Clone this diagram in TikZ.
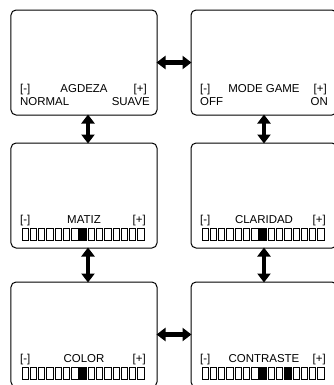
\documentclass[tikz,border=0pt]{standalone}
\usepackage{fontspec}
\setmainfont{Liberation Sans}
\usepackage{tikz}
\usetikzlibrary{positioning,arrows.meta}

% one row of 15 level cells under a screen, #2 = filled cells
\newcommand{\levelbar}[2]{%
  \foreach \i in {0,...,14}
    \draw[cell] ([xshift=11bp+\i*8.27bp, yshift=8bp]#1.south west) rectangle ++(6.3bp,11.5bp);
  \foreach \i in {#2}
    \fill ([xshift=11bp+\i*8.27bp, yshift=8bp]#1.south west) rectangle ++(6.3bp,11.5bp);
}

\begin{document}
\begin{tikzpicture}[%
    x=1bp, y=1bp,
    screen/.style={%
      draw,
      line width=1bp,
      rounded corners=5bp,
      minimum width=146bp,
      minimum height=105bp,
      inner sep=0pt,
      outer sep=0pt
    },
    lbl/.style={%
      font=\fontsize{11.5}{12}\selectfont,
      inner sep=0pt
    },
    cell/.style={line width=0.8bp},
    both/.style={%
      <->,
      >={Triangle[width=13bp,length=9bp]},
      line width=4.5bp,
      shorten <=-0.5bp,
      shorten >=-0.5bp
    }
  ]
    \useasboundingbox (0,0) rectangle (334,-385);
    \clip (0,0) rectangle (334,-385);

    \node[screen] (agdeza) at (84,-62.5)               {};
    \node[screen] (modegame) [right=34bp of agdeza]     {};
    \node[screen] (matiz) [below=28bp of agdeza]        {};
    \node[screen] (claridad) [below=28bp of modegame]   {};
    \node[screen] (color) [below=34bp of matiz]         {};
    \node[screen] (contraste) [below=34bp of claridad]  {};

    % AGDEZA
    \node[lbl, anchor=base west] (agdeza-minus) at ([shift={(9bp,23bp)}]agdeza.south west) {[-]};
    \node[lbl, anchor=base] (agdeza-title) at ([yshift=23bp]agdeza.south) {AGDEZA};
    \node[lbl, anchor=base east] (agdeza-plus) at ([shift={(-10bp,23bp)}]agdeza.south east) {[+]};
    \node[lbl, anchor=base west] (agdeza-low) at ([shift={(9bp,10bp)}]agdeza.south west) {NORMAL};
    \node[lbl, anchor=base east] (agdeza-high) at ([shift={(-7bp,10bp)}]agdeza.south east) {SUAVE};

    % MODE GAME
    \node[lbl, anchor=base west] (modegame-minus) at ([shift={(9bp,23bp)}]modegame.south west) {[-]};
    \node[lbl, anchor=base] (modegame-title) at ([yshift=23bp]modegame.south) {MODE GAME};
    \node[lbl, anchor=base east] (modegame-plus) at ([shift={(-10bp,23bp)}]modegame.south east) {[+]};
    \node[lbl, anchor=base west] (modegame-low) at ([shift={(9bp,10bp)}]modegame.south west) {OFF};
    \node[lbl, anchor=base east] (modegame-high) at ([shift={(-9bp,10bp)}]modegame.south east) {ON};

    % screens with a level bar
    \foreach \scr/\name in {matiz/MATIZ, claridad/CLARIDAD, color/COLOR, contraste/CONTRASTE} {
      \node[lbl, anchor=base west] (\scr-minus) at ([shift={(9bp,25bp)}]\scr.south west) {[-]};
      \node[lbl, anchor=base] (\scr-title) at ([yshift=25bp]\scr.south) {\name};
      \node[lbl, anchor=base east] (\scr-plus) at ([shift={(-11bp,25bp)}]\scr.south east) {[+]};
    }
    \levelbar{matiz}{7}
    \levelbar{claridad}{7}
    \levelbar{color}{7}
    \levelbar{contraste}{7,10}

    \draw[both] (agdeza.east) -- (modegame.west);
    \draw[both] (color.east) -- (contraste.west);
    \draw[both] ([xshift=4bp]agdeza.south) -- ([xshift=4bp]matiz.north);
    \draw[both] ([xshift=4bp]matiz.south) -- ([xshift=4bp]color.north);
    \draw[both] (modegame.south) -- (claridad.north);
    \draw[both] (claridad.south) -- (contraste.north);
  \end{tikzpicture}
\end{document}
